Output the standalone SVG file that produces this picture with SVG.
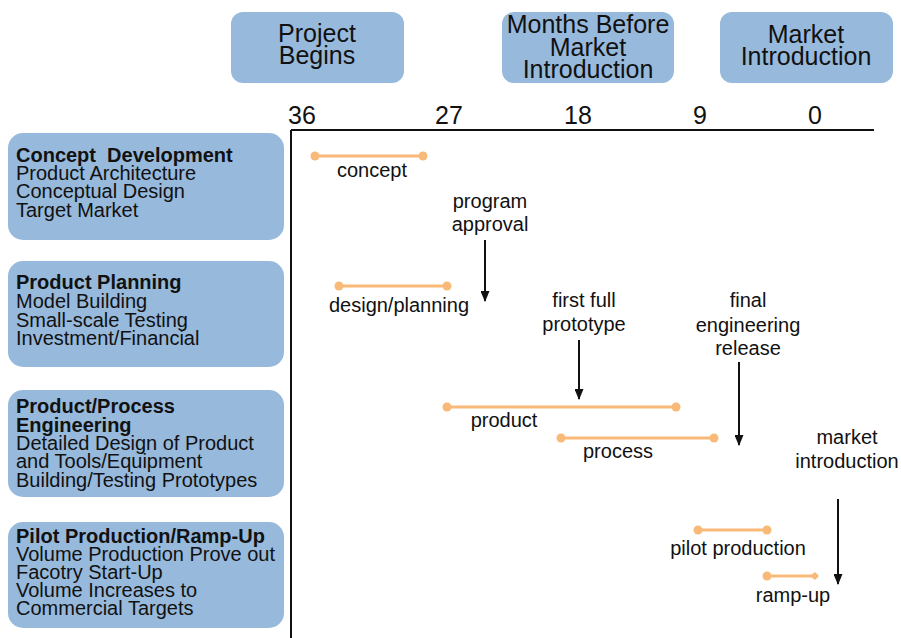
<svg xmlns="http://www.w3.org/2000/svg" width="901" height="638" viewBox="0 0 901 638">
<style>
.box{fill:#97b9dc}
text{font-family:"Liberation Sans",Arial,sans-serif;fill:#111}
.hd{font-size:25px;text-anchor:middle}
.num{font-size:25px;text-anchor:middle}
.bt{font-size:20px}
.b{font-weight:bold}
.pre{white-space:pre}
.lbl{font-size:20px;text-anchor:middle}
.bar{stroke:#f9b978;stroke-width:3;fill:none}
.dot{fill:#f9b978}
.arr{stroke:#111;stroke-width:2;fill:none}
</style>
<defs>
<marker id="ah" markerWidth="11" markerHeight="9" refX="10" refY="4.5" orient="auto" markerUnits="userSpaceOnUse">
<path d="M0,0 L11,4.5 L0,9 Z" fill="#111"/>
</marker>
</defs>
<rect width="901" height="638" fill="#fff"/>
<g id="hdr-project"><rect class="box" x="231" y="12" width="173" height="71" rx="12"/><text class="hd" x="317" y="42">Project</text><text class="hd" x="317" y="64">Begins</text></g>
<g id="hdr-months"><rect class="box" x="502" y="12" width="172" height="71" rx="12"/><text class="hd" x="588" y="33">Months Before</text><text class="hd" x="588" y="56">Market</text><text class="hd" x="588" y="78">Introduction</text></g>
<g id="hdr-market"><rect class="box" x="720" y="12" width="173" height="71" rx="12"/><text class="hd" x="806" y="43">Market</text><text class="hd" x="806" y="65">Introduction</text></g>
<g id="axis">
<line x1="291" y1="130" x2="874" y2="130" stroke="#111" stroke-width="2"/>
<line x1="291" y1="130" x2="291" y2="638" stroke="#111" stroke-width="2"/>
<text class="num" x="302" y="124">36</text><text class="num" x="449" y="124">27</text><text class="num" x="578" y="124">18</text><text class="num" x="700" y="124">9</text><text class="num" x="815" y="124">0</text>
</g>
<g id="phase-concept"><rect class="box" x="8" y="133" width="276" height="107" rx="15"/>
<text class="bt" x="16" y="162"><tspan class="b pre">Concept  Development</tspan><tspan x="16" y="180">Product Architecture</tspan><tspan x="16" y="198">Conceptual Design</tspan><tspan x="16" y="217">Target Market</tspan></text></g>
<g id="phase-planning"><rect class="box" x="8" y="261" width="276" height="106" rx="15"/>
<text class="bt" x="16" y="289"><tspan class="b">Product Planning</tspan><tspan x="16" y="308">Model Building</tspan><tspan x="16" y="327">Small-scale Testing</tspan><tspan x="16" y="345">Investment/Financial</tspan></text></g>
<g id="phase-engineering"><rect class="box" x="8" y="390" width="276" height="107" rx="15"/>
<text class="bt" x="16" y="413"><tspan class="b">Product/Process</tspan><tspan class="b" x="16" y="432">Engineering</tspan><tspan x="16" y="450">Detailed Design of Product</tspan><tspan x="16" y="468">and Tools/Equipment</tspan><tspan x="16" y="487">Building/Testing Prototypes</tspan></text></g>
<g id="phase-pilot"><rect class="box" x="8" y="522" width="276" height="106" rx="15"/>
<text class="bt" x="16" y="543"><tspan class="b">Pilot Production/Ramp-Up</tspan><tspan x="16" y="561">Volume Production Prove out</tspan><tspan x="16" y="579">Facotry Start-Up</tspan><tspan x="16" y="597">Volume Increases to</tspan><tspan x="16" y="615">Commercial Targets</tspan></text></g>
<g id="bar-concept"><line class="bar" x1="315" y1="156" x2="423" y2="156"/><circle class="dot" cx="315" cy="156" r="4.5"/><circle class="dot" cx="423" cy="156" r="4.5"/><text class="lbl" x="372" y="177">concept</text></g>
<g id="bar-design"><line class="bar" x1="339" y1="286" x2="447" y2="286"/><circle class="dot" cx="339" cy="286" r="4.5"/><circle class="dot" cx="447" cy="286" r="4.5"/><text class="lbl" x="399" y="312">design/planning</text></g>
<g id="bar-product"><line class="bar" x1="447" y1="407" x2="676" y2="407"/><circle class="dot" cx="447" cy="407" r="4.5"/><circle class="dot" cx="676" cy="407" r="4.5"/><text class="lbl" x="504" y="427">product</text></g>
<g id="bar-process"><line class="bar" x1="561" y1="438" x2="714" y2="438"/><circle class="dot" cx="561" cy="438" r="4.5"/><circle class="dot" cx="714" cy="438" r="4.5"/><text class="lbl" x="618" y="458">process</text></g>
<g id="bar-pilot"><line class="bar" x1="698" y1="530" x2="767" y2="530"/><circle class="dot" cx="698" cy="530" r="4.5"/><circle class="dot" cx="767" cy="530" r="4.5"/><text class="lbl" x="738" y="555">pilot production</text></g>
<g id="bar-ramp"><line class="bar" x1="767" y1="576" x2="812" y2="576"/><circle class="dot" cx="767" cy="576" r="4.5"/><path class="dot" d="M810,576 L815,572 L819,576 L815,580 Z"/><text class="lbl" x="793" y="602">ramp-up</text></g>
<g id="ms-approval"><text class="lbl" x="490" y="208">program</text><text class="lbl" x="490" y="231">approval</text></g>
<g id="ms-prototype"><text class="lbl" x="584" y="307">first full</text><text class="lbl" x="584" y="331">prototype</text></g>
<g id="ms-release"><text class="lbl" x="748" y="307">final</text><text class="lbl" x="748" y="332">engineering</text><text class="lbl" x="748" y="355">release</text></g>
<g id="ms-market"><text class="lbl" x="847" y="444">market</text><text class="lbl" x="847" y="468">introduction</text></g>
<g id="connectors">
<line class="arr" x1="485" y1="240" x2="485" y2="301" marker-end="url(#ah)"/>
<line class="arr" x1="579" y1="340" x2="579" y2="399" marker-end="url(#ah)"/>
<line class="arr" x1="739" y1="362" x2="739" y2="445" marker-end="url(#ah)"/>
<line class="arr" x1="838" y1="499" x2="838" y2="584" marker-end="url(#ah)"/>
</g>
</svg>
